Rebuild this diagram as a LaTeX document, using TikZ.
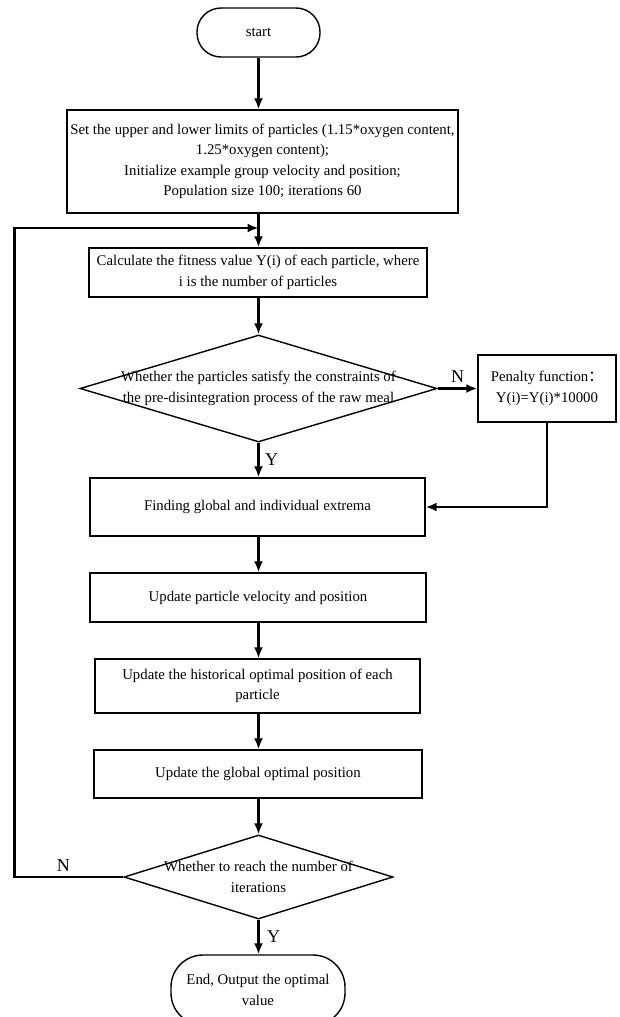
\documentclass[tikz,border=0pt]{standalone}
\usepackage{fontspec}
\setmainfont{Liberation Serif}
\newfontfamily\cjk{Noto Sans CJK SC}
\usetikzlibrary{shapes.geometric,arrows.meta}

\tikzset{
  box/.style={draw, line width=1.4pt, align=center, inner sep=0pt},
  term/.style={draw, line width=1.4pt, align=center, inner sep=0pt},
  decision/.style={draw, diamond, line width=1.4pt, inner sep=0pt},
  flow/.style={line width=2.4pt, -{Latex[length=11pt,width=9pt]}},
  yn/.style={font=\fontsize{18}{18}\selectfont}
}

\begin{document}
\begin{tikzpicture}[x=1pt,y=-1pt,font=\fontsize{14.8}{20.5}\selectfont]
  \useasboundingbox (0,0) rectangle (619,1017);
  % nodes
  \node[term, rounded corners=24pt, minimum width=123pt, minimum height=49pt] (start) at (258.5,32.5) {start};
  \node[box, minimum width=391pt, minimum height=103pt] (init) at (262.5,161.5)
    {Set the upper and lower limits of particles (1.15*oxygen content,\\
     1.25*oxygen content);\\
     Initialize example group velocity and position;\\
     Population size 100; iterations 60};
  \node[box, minimum width=338pt, minimum height=49pt] (fit) at (258,272.5)
    {Calculate the fitness value Y(i) of each particle, where\\ i is the number of particles};
  \node[decision, minimum width=357pt, minimum height=107pt] (check) at (258.5,388.5) {};
  \node[align=center] (checktxt) at (check) {Whether the particles satisfy the constraints of\\ the pre-disintegration process of the raw meal};
  \node[box, minimum width=138pt, minimum height=67pt] (pen) at (547,388.5)
    {Penalty function{\cjk ：}\\ Y(i)=Y(i)*10000};
  \node[box, minimum width=335pt, minimum height=58pt] (ext) at (257.5,507) {Finding global and individual extrema};
  \node[box, minimum width=336pt, minimum height=49pt] (vel) at (258,597.5) {Update particle velocity and position};
  \node[box, minimum width=325pt, minimum height=54pt] (hist) at (257.5,686)
    {Update the historical optimal position of each\\ particle};
  \node[box, minimum width=328pt, minimum height=48pt] (glob) at (258,774) {Update the global optimal position};
  \node[decision, minimum width=269pt, minimum height=84pt] (iter) at (258.5,877) {};
  \node[align=center] (itertxt) at (iter) {Whether to reach the number of\\ iterations};
  \node[term, rounded corners=32pt, minimum width=174pt, minimum height=70pt] (stop) at (258,990)
    {End, Output the optimal\\ value};
  \coordinate (join) at (258.5,228);

  % connectors
  \draw[flow] (start.south) -- (start.south |- init.north);
  \draw[flow] (start.south |- init.south) -- (start.south |- fit.north);
  \draw[flow] (fit.south -| check.north) -- (check.north);
  \draw[flow] (check.east) -- (pen.west) node[yn, midway, above=1pt] (n1) {N};
  \draw[flow] (check.south) -- (check.south |- ext.north) node[yn, midway, right=2pt] (y1) {Y};
  \draw[flow] (pen.south) |- (ext.east);
  \draw[flow] (ext.south -| check.south) -- (check.south |- vel.north);
  \draw[flow] (vel.south -| check.south) -- (check.south |- hist.north);
  \draw[flow] (hist.south -| check.south) -- (check.south |- glob.north);
  \draw[flow] (glob.south -| iter.north) -- (iter.north);
  \draw[flow] (iter.south) -- (iter.south |- stop.north) node[yn, midway, right=4pt] (y2) {Y};
  \draw[flow] (iter.west) -- ++(-109,0) node[yn, pos=0.55, above=1pt] (n2) {N} |- (join);
\end{tikzpicture}
\end{document}
